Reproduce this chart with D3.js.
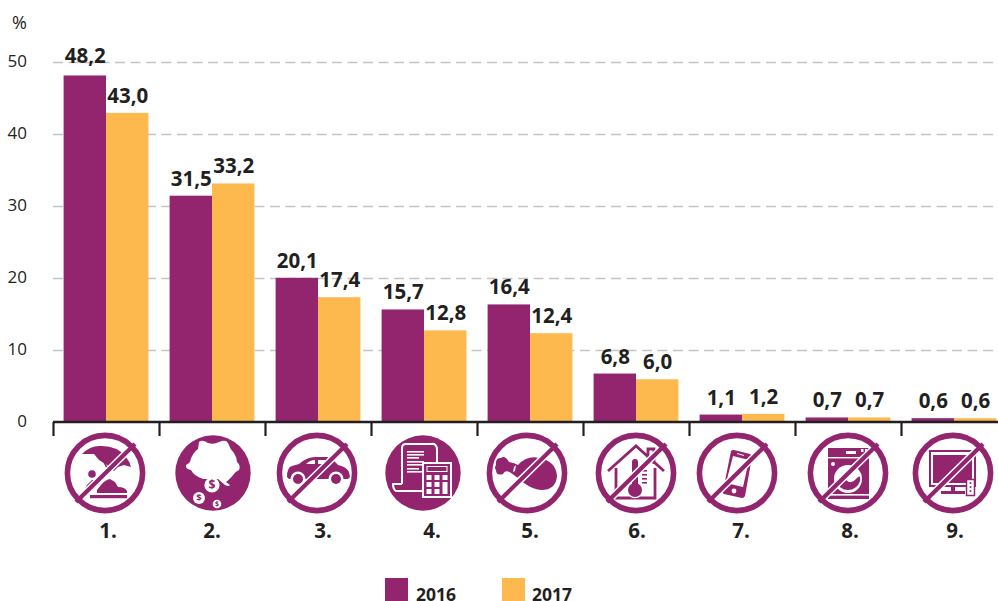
<!DOCTYPE html>
<html><head><meta charset="utf-8">
<script src="https://cdn.jsdelivr.net/npm/d3@7"></script>
<style>
html,body{margin:0;padding:0;background:#fff;overflow:hidden}
svg{display:block;font-family:"Open Sans",sans-serif}
</style></head><body>
<svg id="c" width="998" height="601"></svg>
<script>
const categories = ["1.","2.","3.","4.","5.","6.","7.","8.","9."];
const years = ["2016","2017"];
const values2016 = [48.2,31.5,20.1,15.7,16.4,6.8,1.1,0.7,0.6];
const values2017 = [43.0,33.2,17.4,12.8,12.4,6.0,1.2,0.7,0.6];
const yTicks = [0,10,20,30,40,50];

const PURPLE="#93256f", ORANGE="#fdb94e", INK="#231f20";
const svg=d3.select("#c");
const fmt=v=>d3.format(".1f")(v).replace(".",",");

const y=d3.scaleLinear().domain([0,50]).range([422.5,62.5]);
const x=d3.scaleBand().domain(categories).range([53,1007]).paddingInner(0.2).paddingOuter(0.1);
const xi=d3.scaleBand().domain(years).range([0,x.bandwidth()]);
const color=d3.scaleOrdinal().domain(years).range([PURPLE,ORANGE]);
const series=[values2016,values2017];

// y axis labels + grid
const gy=svg.append("g").attr("transform","translate(53,0)")
  .call(d3.axisLeft(y).tickValues(yTicks).tickSize(0).tickPadding(26).tickFormat(d3.format("d")));
gy.select(".domain").remove();
gy.selectAll("text").attr("font-size",17).attr("fill",INK).attr("font-family","'Open Sans',sans-serif").attr("dy",null)
  .attr("y",3.5);
svg.append("g").selectAll("line").data(yTicks.filter(d=>d>0)).join("line")
  .attr("x1",53).attr("x2",998).attr("y1",d=>y(d)).attr("y2",d=>y(d))
  .attr("stroke","#c4c4c4").attr("stroke-width",1.3).attr("stroke-dasharray","10 5.5");
svg.append("text").text("%").attr("x",12).attr("y",29).attr("font-size",18).attr("fill",INK);

// bars
years.forEach((yr,k)=>{
  svg.append("g").selectAll("rect").data(series[k]).join("rect")
    .attr("x",(d,i)=>x(categories[i])+xi(yr)).attr("width",xi.bandwidth())
    .attr("y",d=>y(d)).attr("height",d=>y(0)-y(d)).attr("fill",color(yr));
});
// value labels
years.forEach((yr,k)=>{
  svg.append("g").selectAll("text").data(series[k]).join("text")
    .attr("x",(d,i)=>x(categories[i])+xi(yr)+xi.bandwidth()/2+0.5)
    .attr("y",(d,i)=>y(d)-(d>45?12.5:10))
    .attr("text-anchor","middle").attr("font-size",20.5).attr("font-weight",700)
    .attr("fill",INK).text(fmt);
});

// x axis with ticks on the band edges
const edge=d3.scaleLinear().domain([0,9]).range([53,1007]);
const gx=svg.append("g").attr("transform","translate(0,422)")
  .call(d3.axisBottom(edge).tickValues(d3.range(9)).tickSize(14).tickSizeOuter(0).tickFormat(""));
gx.select(".domain").attr("d","M53,0H998").attr("stroke",INK).attr("stroke-width",2.4);
gx.selectAll("line").attr("stroke",INK).attr("stroke-width",2.2);

// pictograms (local coords, centre 0,0)
const P=(g,d,f=PURPLE)=>g.append("path").attr("d",d).attr("fill",f);
const W=(g,d)=>P(g,d,"#fff");
const C=(g,cx,cy,r,f)=>g.append("circle").attr("cx",cx).attr("cy",cy).attr("r",r).attr("fill",f);
const R=(g,a,b,w,h,f=PURPLE)=>g.append("rect").attr("x",a).attr("y",b).attr("width",w).attr("height",h).attr("fill",f);
function ring(g){C(g,0,0,37.6,"none").attr("stroke",PURPLE).attr("stroke-width",5.6);}
function slash(g){
  g.append("line").attr("x1",29).attr("y1",-28).attr("x2",-28).attr("y2",28).attr("stroke","#fff").attr("stroke-width",7.2);
  g.append("line").attr("x1",30).attr("y1",-29).attr("x2",-29).attr("y2",29).attr("stroke",PURPLE).attr("stroke-width",4.2);
  ring(g);
}
function coin(g,cx,cy,r){C(g,cx,cy,r,"#fff");
  g.append("text").text("$").attr("x",cx).attr("y",cy+r*.55).attr("text-anchor","middle").attr("font-size",r*1.6).attr("font-weight",700).attr("fill",PURPLE);}
const icons=[
 {dx:-1,lx:2,draw(g){
   P(g,"M-23,-19Q-15,-27 -6,-27Q12,-28 21,-16Q25,-11 26,-6L19,-8L13,-6L9,-2L2,-8L-6,-13L-11,-19L-17,-19Z");
   g.append("line").attr("x1",-3).attr("y1",-15).attr("x2",3).attr("y2",-3).attr("stroke",PURPLE).attr("stroke-width",1.6);
   C(g,-13,1,3.8,PURPLE);
   P(g,"M-18,12L-13,7L-8,7L-5,10L-14,19L-20,16Z");
   P(g,"M-8,17Q0,6 5,6L10,9L13,14Q20,14 22,18L22,20L-8,20Z");
   R(g,-15,22,37,3.2);slash(g);}},
 {dx:1,lx:0,draw(g){C(g,0,0,37.7,PURPLE);
   W(g,"M-14,-31Q-11,-34 -5,-30Q1,-28 6,-31Q13,-34 15,-30Q17,-24 21,-20Q24,-15 24,-11Q28,-8 26,-3Q22,-1 21,1Q16,7 13,9L17,12Q16,14 12,12L5,6L-5,6L-10,6Q-19,3 -22,-3Q-28,-4 -27,-8Q-25,-9 -23,-11Q-21,-20 -15,-24Z");
   coin(g,-1,12,7.6);coin(g,-14,25,6);coin(g,4,31,4.3);}},
 {dx:-1,lx:5,draw(g){
   P(g,"M-30,4Q-30,-6 -25,-7L-18,-9Q-10,-16 -2,-16L10,-16Q15,-15 21,-8Q30,-6 32,-1L33,4L31,6L-28,6Z");
   W(g,"M-11,-9Q-7,-13 -2,-13L-2,-9ZM1,-13L8,-13L11,-9L1,-9Z");
   C(g,-19,6,7.5,"#fff");C(g,-19,6,5,PURPLE);C(g,19,6,7.5,"#fff");C(g,19,6,5,PURPLE);slash(g);}},
 {dx:-1,lx:8,draw(g){C(g,0,0,37.7,PURPLE);
   g.append("path").attr("d","M-21,11V-25Q-21,-29 -17,-29H8Q14,-30 14,-23V-10M-21,11H-30Q-30,16 -27,18H-1").attr("fill","none").attr("stroke","#fff").attr("stroke-width",2);
   [-22,-19,-16,-12,-9,-5,-2].forEach((b,i)=>R(g,-16,b,i%3==2?12:17,1.6,"#fff"));
   R(g,-1,-11,30,36,"#fff");R(g,1,-9,26,32,PURPLE);R(g,3.5,-7,21,6,"#fff");
   R(g,4.5,-6,19,4,PURPLE);
   [0,1,2].forEach(r=>[0,1,2].forEach(c=>{if(c==2&&r>0)return;R(g,3.5+c*8,2+r*7,5,5,"#fff");}));
   R(g,19.5,9,5,12,"#fff");}},
 {dx:-3,lx:0,draw(g){
   P(g,"M-31,-8Q-32,-15 -26,-15Q-22,-18 -18,-11Q-12,-10 -9,-8Q0,-18 12,-15Q29,-12 30,3Q29,17 14,17Q5,16 -3,10Q-10,4 -16,0Q-22,-4 -24,1Q-31,3 -31,-3Q-33,-5 -31,-8Z");
   W(g,"M-11,-8L-12,-2L-14,-1L-13,-6Z");slash(g);}},
 {dx:0,lx:1,draw(g){
   g.append("path").attr("d","M-28,-2L0,-27L28,-2M-20,-5V25H19V-5M12,-15V-24H18V-9").attr("fill","none").attr("stroke",PURPLE).attr("stroke-width",2.8);
   g.append("path").attr("d","M-6,-11V11A8,8 0 1 0 4,11V-11A5,5 0 0 0 -6,-11Z").attr("fill","#fff");
   P(g,"M-4,-11V12A6,6 0 1 0 2,12V-11A3,3 0 0 0 -4,-11Z");
   C(g,-1,17,7,PURPLE);
   R(g,6,-3,5,1.6);R(g,6,1,5,1.6);R(g,6,5,5,1.6);R(g,6,9,5,1.6);slash(g);}},
 {dx:-5,lx:-1,draw(g){
   P(g,"M-6,-22Q-5,-23 -3,-23L13,-19Q15,-18 15,-16L8,23Q7,25 5,25L-13,21Q-15,20 -14,18Z");
   W(g,"M-4,-17L12,-13L6,14L-11,10Z");
   W(g,"M0,-20L7,-18L7,-17L0,-19Z");
   C(g,-3,18,2.4,"#fff");slash(g);}},
 {dx:0,lx:2,draw(g){
   R(g,-20,-25,41,51);
   R(g,-20,-16,41,1.4,"#fff");R(g,-20,21,41,1.6,"#fff");
   R(g,-2,-22,10,3,"#fff");
   C(g,-15,-9,2,"#fff");
   C(g,0,6,14,"#fff");
   P(g,"M-12,8Q-7,2 -2,7T8,6T12,8A12.5,12.5 0 0 1 -12,8Z");
   R(g,13,-24,2.5,3,"#fff");R(g,17,-24,2.5,3,"#fff");slash(g);}},
 {dx:-1,lx:1,draw(g){
   R(g,-24,-23,47,37);R(g,-22,-21,43,33,"#fff");R(g,-20,-18,39,28);
   R(g,-2,14,4,5);R(g,-12,18,24,3);
   g.append("rect").attr("x",13.5).attr("y",6.5).attr("width",8).attr("height",16).attr("fill","#fff").attr("stroke",PURPLE).attr("stroke-width",1.5);
   [10,14,18].forEach(b=>C(g,17.5,b,1,PURPLE));slash(g);}}
];
const centers=x.domain().map(c=>x(c)+x.bandwidth()/2);
const ig=svg.append("g").selectAll("g").data(icons).join("g")
  .attr("transform",(d,i)=>`translate(${centers[i]+d.dx},473)`);
ig.each(function(d){d.draw(d3.select(this));});

svg.append("g").selectAll("text").data(categories).join("text")
  .attr("x",(d,i)=>centers[i]+icons[i].lx).attr("y",538).attr("text-anchor","middle")
  .attr("font-size",20.5).attr("font-weight",700).attr("fill",INK).text(d=>d);

// legend
const lg=svg.append("g").selectAll("g").data(years).join("g")
  .attr("transform",(d,i)=>`translate(${385+i*117},578)`);
lg.append("rect").attr("width",23).attr("height",23).attr("fill",d=>color(d));
lg.append("text").attr("x",(d,i)=>i?30:31).attr("y",22.5).attr("font-size",17.5).attr("font-weight",700).attr("fill",INK).text(d=>d);
</script>
</body></html>
